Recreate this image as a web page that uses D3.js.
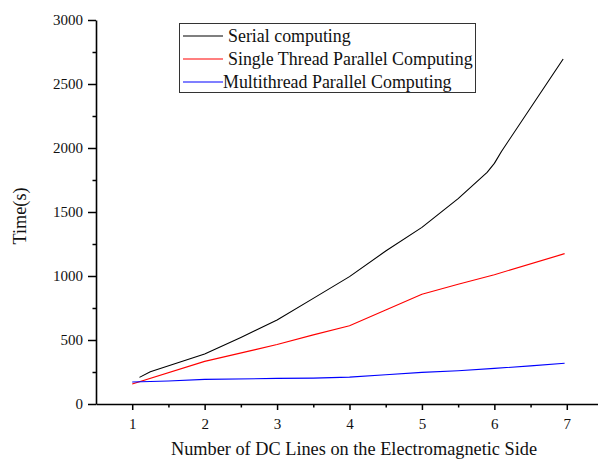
<!DOCTYPE html>
<html>
<head>
<meta charset="utf-8">
<script src="https://cdn.jsdelivr.net/npm/d3@7"></script>
<style>
  html, body { margin: 0; padding: 0; background: #fff; }
  svg { display: block; font-family: "Liberation Serif", "Times New Roman", serif; }
</style>
</head>
<body>
<svg id="chart" width="598" height="460"></svg>
<script>
// Computation time versus number of DC lines
const serialX   = [1.1, 1.25, 2.0, 2.5, 3.0, 3.5, 4.0, 4.5, 5.0, 5.5, 5.9, 6.0, 6.1, 6.95];
const serialY   = [208, 252, 391, 520, 656, 825, 995, 1195, 1380, 1605, 1810, 1880, 1975, 2695];
const singleX   = [1.0, 2.0, 2.7, 3.0, 3.5, 4.0, 4.5, 5.0, 5.5, 6.0, 6.97];
const singleY   = [156, 333, 425, 465, 540, 612, 735, 857, 935, 1010, 1175];
const multiX    = [1.0, 1.5, 2.0, 3.0, 3.5, 4.0, 4.5, 5.0, 5.5, 6.0, 6.5, 6.97];
const multiY    = [172, 180, 192, 200, 202, 210, 228, 247, 260, 278, 298, 318];

const seriesNames = ["Serial computing", "Single Thread Parallel Computing", "Multithread Parallel Computing"];
const seriesColors = ["#000000", "#ff0000", "#0000ff"];

const xTicks = [1, 2, 3, 4, 5, 6, 7];
const xMinorTicks = [1.5, 2.5, 3.5, 4.5, 5.5, 6.5];
const yTicks = [0, 500, 1000, 1500, 2000, 2500, 3000];
const yMinorTicks = [250, 750, 1250, 1750, 2250, 2750];

const xTitle = "Number of DC Lines on the Electromagnetic Side";
const yTitle = "Time(s)";

const svg = d3.select("#chart");

const x = d3.scaleLinear().domain([0.5, 7.5]).range([96, 603]);
const y = d3.scaleLinear().domain([0, 3000]).range([404, 20]);

// Minor ticks (no labels)
svg.append("g")
  .attr("transform", `translate(0,${y(0)})`)
  .call(d3.axisBottom(x).tickValues(xMinorTicks).tickSize(3.5).tickFormat(""))
  .call(g => g.select(".domain").remove())
  .selectAll("line").attr("stroke", "#000").attr("stroke-width", 1.5);

svg.append("g")
  .attr("transform", `translate(${x(0.5)},0)`)
  .call(d3.axisLeft(y).tickValues(yMinorTicks).tickSize(3.5).tickFormat(""))
  .call(g => g.select(".domain").remove())
  .selectAll("line").attr("stroke", "#000").attr("stroke-width", 1.5);

// Major axes
const xAxis = svg.append("g")
  .attr("transform", `translate(0,${y(0)})`)
  .call(d3.axisBottom(x).tickValues(xTicks).tickSize(6).tickSizeOuter(0).tickPadding(8).tickFormat(d3.format("d")));
xAxis.attr("font-family", null);
xAxis.select(".domain").attr("stroke", "#000").attr("stroke-width", 1.6);
xAxis.selectAll(".tick line").attr("stroke", "#000").attr("stroke-width", 1.5);
xAxis.selectAll(".tick text").attr("font-size", 15).attr("fill", "#111");

const yAxis = svg.append("g")
  .attr("transform", `translate(${x(0.5)},0)`)
  .call(d3.axisLeft(y).tickValues(yTicks).tickSize(8).tickSizeOuter(0).tickPadding(5).tickFormat(d3.format("d")));
yAxis.attr("font-family", null);
yAxis.select(".domain").attr("stroke", "#000").attr("stroke-width", 1.6);
yAxis.selectAll(".tick line").attr("stroke", "#000").attr("stroke-width", 1.5);
yAxis.selectAll(".tick text").attr("font-size", 15).attr("fill", "#111");

// Axis titles
svg.append("text")
  .attr("x", 354).attr("y", 455)
  .attr("text-anchor", "middle")
  .attr("font-size", 18.3).attr("fill", "#111")
  .text(xTitle);

svg.append("text")
  .attr("transform", `translate(26,216) rotate(-90)`)
  .attr("text-anchor", "middle")
  .attr("font-size", 18.3).attr("fill", "#111")
  .text(yTitle);

// Series lines
const seriesData = [
  serialX.map((d, i) => [d, serialY[i]]),
  singleX.map((d, i) => [d, singleY[i]]),
  multiX.map((d, i) => [d, multiY[i]])
];
const line = d3.line().x(d => x(d[0])).y(d => y(d[1]));
seriesData.forEach((pts, i) => {
  svg.append("path")
    .datum(pts)
    .attr("fill", "none")
    .attr("stroke", seriesColors[i])
    .attr("stroke-width", 1.1)
    .attr("stroke-linejoin", "round")
    .attr("d", line);
});

// Legend
const legend = svg.append("g");
legend.append("rect")
  .attr("x", 179.5).attr("y", 23.5).attr("width", 296).attr("height", 69)
  .attr("fill", "#fff").attr("stroke", "#333").attr("stroke-width", 1);
const rowY = [36, 59, 82];
const textX = [228, 228, 223];
seriesNames.forEach((name, i) => {
  legend.append("line")
    .attr("x1", 183).attr("x2", 223)
    .attr("y1", rowY[i]).attr("y2", rowY[i])
    .attr("stroke", seriesColors[i]).attr("stroke-width", 1.2);
  legend.append("text")
    .attr("x", textX[i]).attr("y", rowY[i])
    .attr("dy", "0.35em")
    .attr("font-size", 17.9).attr("fill", "#111")
    .text(name);
});
</script>
</body>
</html>
